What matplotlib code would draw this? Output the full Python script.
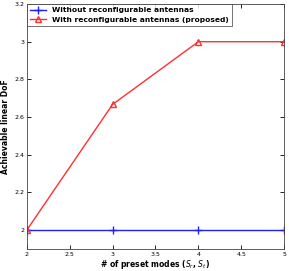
import matplotlib
matplotlib.use('Agg')
import matplotlib.pyplot as plt

modes = [2, 3, 4, 5]
without_reconf = [2, 2, 2, 2]
with_reconf = [2, 2.667, 3, 3]

fig = plt.figure(figsize=(2.89, 2.71), dpi=100)
ax = fig.add_axes([0.093, 0.082, 0.89, 0.903])

ax.plot(modes, without_reconf, color='#2020ff', linewidth=1, marker='+',
        markersize=6, label='Without reconfigurable antennas')
ax.plot(modes, with_reconf, color='#ff3030', linewidth=1, marker='^',
        markersize=5, markerfacecolor='none', label='With reconfigurable antennas (proposed)')

ax.set_xlim(2, 5)
ax.set_ylim(1.9, 3.2)
ax.set_xticks([2, 2.5, 3, 3.5, 4, 4.5, 5])
ax.set_xticklabels(['2', '2.5', '3', '3.5', '4', '4.5', '5'])
ax.set_yticks([2, 2.2, 2.4, 2.6, 2.8, 3, 3.2])
ax.set_yticklabels(['2', '2.2', '2.4', '2.6', '2.8', '3', '3.2'])
ax.tick_params(direction='in', top=True, right=True, labelsize=4.5, length=3, width=0.6, pad=2)
for s in ax.spines.values():
    s.set_linewidth(0.6)
    s.set_color('#444444')

ax.set_xlabel('# of preset modes ($S_r$, $S_t$)', fontsize=5.5, fontweight='bold', labelpad=1)
ax.set_ylabel('Achievable linear DoF', fontsize=5.5, fontweight='bold', labelpad=3)

leg = ax.legend(loc='upper left', prop={'weight': 'bold', 'size': 5.4},
                fancybox=False, edgecolor='#333333', borderaxespad=0, handlelength=2.2,
                borderpad=0.4, labelspacing=0.4)
leg.get_frame().set_linewidth(0.6)

fig.savefig('out.png', dpi=100)
